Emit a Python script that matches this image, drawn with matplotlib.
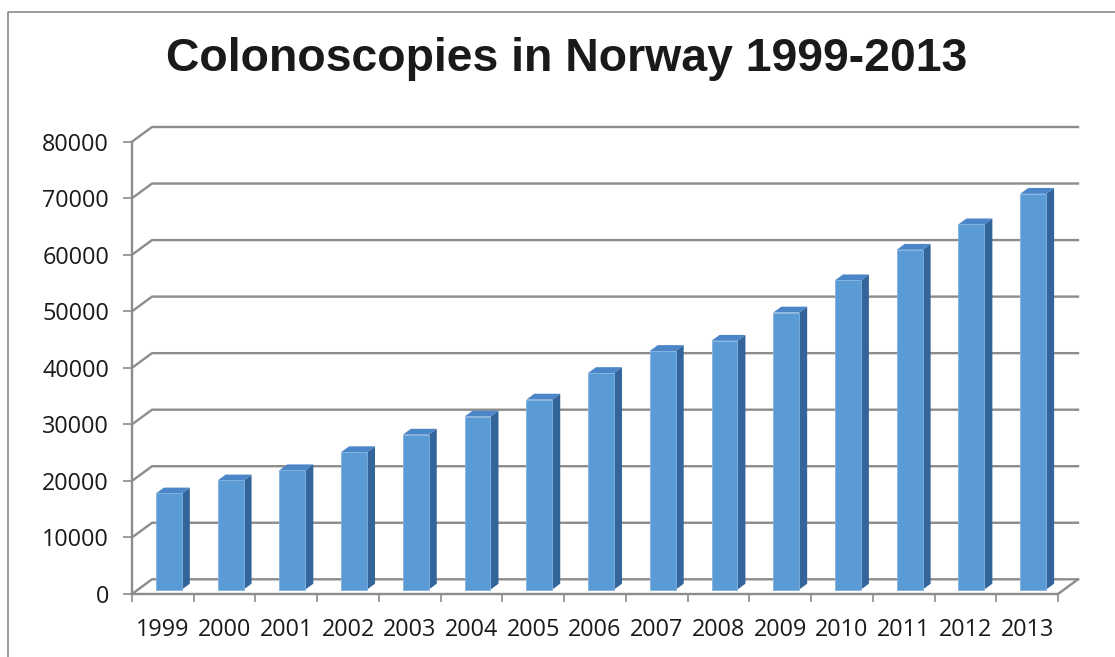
import matplotlib
matplotlib.use("Agg")
import matplotlib.pyplot as plt
from matplotlib.lines import Line2D
from matplotlib.patches import Polygon, Rectangle

years = ["1999", "2000", "2001", "2002", "2003", "2004", "2005", "2006",
         "2007", "2008", "2009", "2010", "2011", "2012", "2013"]
colonoscopies = [17000, 19300, 21100, 24300, 27400, 30600, 33600, 38300,
                 42200, 44000, 49000, 54700, 60100, 64600, 70000]
y_ticks = [0, 10000, 20000, 30000, 40000, 50000, 60000, 70000, 80000]

# fake 3d: depth offset of the back wall in data units
DX, DY = 0.324, 2600
BAR_W = 0.42
BAR_FRONT, BAR_DEPTH = 0.3, 0.4

FACE = "#5b9bd5"
TOP = "#4a86c8"
SIDE = "#33649a"
GRID = "#8c8c8c"

fig = plt.figure(figsize=(11.15, 6.57), dpi=100)
ax = fig.add_axes([132 / 1115, (657 - 594) / 657, 926 / 1115, 452.3 / 657])
n = len(years)
ax.set_xlim(-0.5, n - 0.5)
ax.set_ylim(0, 80000)

# back wall + left wall gridlines
for v in y_ticks:
    ax.add_line(Line2D([-0.5, -0.5 + DX, n - 0.5 + DX], [v, v + DY, v + DY],
                       color=GRID, lw=1.7, clip_on=False, zorder=1))
# floor right edge
ax.add_line(Line2D([n - 0.5, n - 0.5 + DX], [0, DY], color=GRID, lw=1.7,
                   clip_on=False, zorder=1))

# bars
for i, v in enumerate(colonoscopies):
    x0 = i + BAR_FRONT * DX - BAR_W / 2
    x1 = x0 + BAR_W
    y0 = BAR_FRONT * DY
    top = v + y0
    ddx, ddy = BAR_DEPTH * DX, BAR_DEPTH * DY
    ax.add_patch(Polygon([(x1, y0), (x1 + ddx, y0 + ddy), (x1 + ddx, top + ddy), (x1, top)],
                         closed=True, fc=SIDE, ec="none", zorder=3, clip_on=False))
    ax.add_patch(Polygon([(x0, top), (x1, top), (x1 + ddx, top + ddy), (x0 + ddx, top + ddy)],
                         closed=True, fc=TOP, ec="none", zorder=3, clip_on=False))
    ax.add_patch(Rectangle((x0, y0), BAR_W, v, fc=FACE, ec="#7fb2e0", lw=0.6,
                           zorder=4, clip_on=False))

for s in ["top", "right"]:
    ax.spines[s].set_visible(False)
for s in ["left", "bottom"]:
    ax.spines[s].set_color(GRID)
    ax.spines[s].set_linewidth(1.7)
    ax.spines[s].set_zorder(2)

ax.set_yticks(y_ticks)
ax.set_yticklabels([str(t) for t in y_ticks])
ax.set_xticks([i - 0.5 for i in range(n + 1)])
ax.set_xticklabels([])
ax.set_xticks(range(n), minor=True)
ax.set_xticklabels(years, minor=True)
ax.tick_params(axis="y", direction="out", length=6.5, width=1.2, color=GRID,
               pad=10, labelsize=16.8, labelcolor="#1a1a1a")
ax.tick_params(axis="x", which="major", direction="out", length=6, width=1.2, color=GRID)
ax.tick_params(axis="x", which="minor", length=0, pad=17.5, labelsize=16.8,
               labelcolor="#1a1a1a")
for lab in ax.get_yticklabels() + ax.get_xticklabels(minor=True):
    lab.set_family("Open Sans")
ax.patch.set_visible(False)

# chart frame (only top and left edges show)
fig.add_artist(Line2D([7.7 / 1115, 7.7 / 1115, 1.0], [0.0, 1 - 11.7 / 657, 1 - 11.7 / 657],
                      color="#8a8a8a", lw=1.2, transform=fig.transFigure))

fig.text(567 / 1115, 1 - 59 / 657, "Colonoscopies in Norway 1999-2013",
         ha="center", va="center", fontsize=33.4, fontweight="bold",
         family="Liberation Sans", color="#1a1a1a")

fig.savefig("out.png", dpi=100)
